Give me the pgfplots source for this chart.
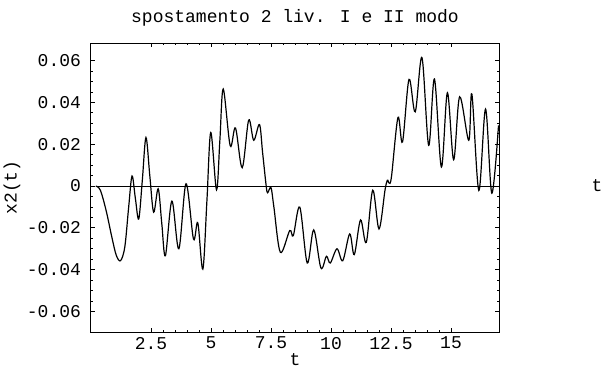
\documentclass[border=0pt]{standalone}
\usepackage{fontspec}
\setmainfont{Liberation Mono}
\usepackage{pgfplots}
\pgfplotsset{compat=1.18}

% displacement of the second level, first and second mode
\pgfplotstableread{
t      x
0.20   0.0000
0.39  -0.0020
0.63  -0.0117
0.87  -0.0245
1.05  -0.0330
1.23  -0.0357
1.41  -0.0290
1.57  -0.0100
1.71   0.0048
1.85  -0.0060
1.99  -0.0157
2.14   0.0030
2.29   0.0232
2.45   0.0050
2.61  -0.0125
2.80  -0.0013
2.95  -0.0180
3.10  -0.0333
3.37  -0.0072
3.66  -0.0300
3.96   0.0011
4.27  -0.0253
4.45  -0.0176
4.66  -0.0397
4.83  -0.0070
4.99   0.0256
5.23  -0.0018
5.37   0.0220
5.51   0.0464
5.80   0.0193
6.02   0.0278
6.30   0.0088
6.57   0.0315
6.78   0.0219
7.02   0.0294
7.15   0.0160
7.30   0.0000
7.36  -0.0032
7.50  -0.0008
7.62  -0.0100
7.89  -0.0317
8.28  -0.0213
8.43  -0.0237
8.70  -0.0101
9.01  -0.0368
9.28  -0.0210
9.58  -0.0392
9.81  -0.0336
9.97  -0.0368
10.25 -0.0300
10.49 -0.0357
10.78 -0.0229
10.97 -0.0328
11.23 -0.0162
11.47 -0.0269
11.74 -0.0020
12.00 -0.0205
12.25 -0.0020
12.35  0.0028
12.42  0.0015
12.52  0.0045
12.79  0.0328
12.98  0.0211
13.25  0.0510
13.51  0.0355
13.79  0.0614
14.07  0.0195
14.31  0.0512
14.60  0.0091
14.85  0.0446
15.11  0.0126
15.36  0.0427
15.74  0.0219
15.87  0.0440
16.16 -0.0021
16.44  0.0368
16.70 -0.0034
16.98  0.0290
}\spostamento

\begin{document}
\begin{tikzpicture}
\useasboundingbox (-45.5pt,-22.5pt) rectangle (257pt,166pt);
\begin{axis}[
  at={(0,0)}, anchor=south west,
  scale only axis, width=204pt, height=144.5pt,
  xmin=0, xmax=17, ymin=-0.0698, ymax=0.0684,
  clip=false,
  scaled y ticks=false, scaled x ticks=false,
  axis line style={line width=0.5pt},
  tick style={black, line width=0.4pt},
  tick align=inside,
  major tick length=2.2pt, minor tick length=1.2pt,
  xtick={2.5,5,7.5,10,12.5,15},
  xticklabels={2.5,5,7.5,10,12.5,15},
  minor x tick num=4,
  ytick={-0.06,-0.04,-0.02,0,0.02,0.04,0.06},
  yticklabels={-0.06,-0.04,-0.02,0,0.02,0.04,0.06},
  minor y tick num=3,
  font=\fontsize{9}{10}\selectfont,
  yticklabel style={xshift=-1.5pt},
  xticklabel style={yshift=1pt},
  xlabel={t},
  x label style={at={(axis description cs:0.5,-0.097)}, anchor=center},
  ylabel={x2(t)},
  y label style={at={(axis description cs:-0.1936,0.5)}, anchor=center, rotate=0},
]
% horizontal axis through zero
\addplot[black, line width=0.5pt] coordinates {(0.2,0) (17,0)};
\node[anchor=center, xshift=49pt] at (axis cs:17,0) {t};
\node[anchor=center] at (axis description cs:0.5,1.0865) {spostamento 2 liv. I e II modo};
\addplot[black, line width=0.6pt, smooth, tension=0.55] table[x=t, y=x] {\spostamento};
\end{axis}
\end{tikzpicture}
\end{document}
